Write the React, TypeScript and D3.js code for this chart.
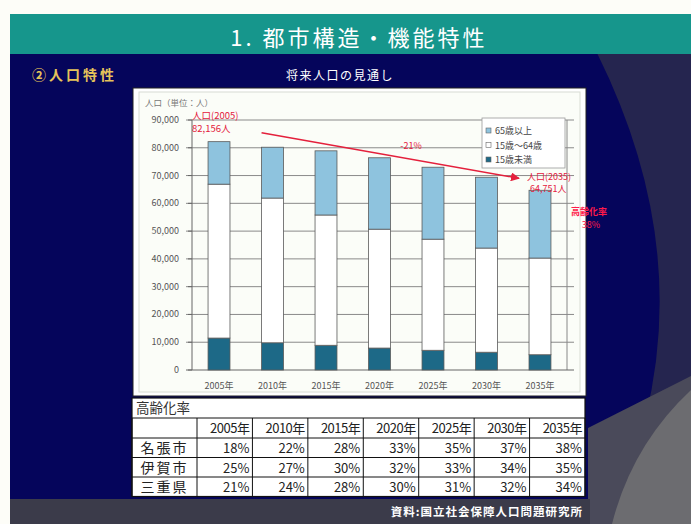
import React from 'react';
import * as d3 from 'd3';

const years = ['2005年', '2010年', '2015年', '2020年', '2025年', '2030年', '2035年'];
const young = [11500, 9800, 8900, 7900, 7100, 6400, 5500];
const working = [55400, 52100, 46900, 42800, 40000, 37500, 34800];
const elderly = [15300, 18300, 23100, 25700, 25900, 25500, 24400];
const yTicks = [0, 10000, 20000, 30000, 40000, 50000, 60000, 70000, 80000, 90000];
const seriesNames = ['15歳未満', '15歳～64歳', '65歳以上'];
const seriesColors = ['#1d6987', '#ffffff', '#8ec3de'];

const tableHeaders = ['2005年', '2010年', '2015年', '2020年', '2025年', '2030年', '2035年'];
const tableRowNames = ['名張市', '伊賀市', '三重県'];
const nabariRate = ['18%', '22%', '28%', '33%', '35%', '37%', '38%'];
const igaRate = ['25%', '27%', '30%', '32%', '33%', '34%', '35%'];
const mieRate = ['21%', '24%', '28%', '30%', '31%', '32%', '34%'];

const FONT = '"Noto Sans CJK JP", "Noto Sans", sans-serif';

export default function App() {
  const W = 691, H = 524;
  const x = d3.scaleBand<string>().domain(years).range([192, 567]).paddingInner(0.59).paddingOuter(0.3);
  const y = d3.scaleLinear().domain([0, 90000]).range([370, 120]);
  const rows = years.map((yr, i) => ({ year: yr, young: young[i], working: working[i], elderly: elderly[i] }));
  const stack = d3.stack<any>().keys(['young', 'working', 'elderly']);
  const series = stack(rows);
  const totals = years.map((_, i) => young[i] + working[i] + elderly[i]);
  const fmt = d3.format(',');

  const x1 = (x(years[1]) as number);
  const y1 = y(totals[0]) - 9;
  const x2 = (x(years[6]) as number) - 10;
  const y2 = y(totals[6]) - 12;

  const tX = 132, tW = 453, tTop = 398;
  const firstColW = 65;
  const colW = (tW - firstColW) / tableHeaders.length;
  const rowH = [20, 20, 19.5, 19.5, 19.5];
  const rowY: number[] = [];
  let acc = tTop;
  rowH.forEach(h => { rowY.push(acc); acc += h; });
  const tBottom = acc;
  const tableData = [nabariRate, igaRate, mieRate];

  return (
    <svg width={W} height={H} style={{ position: 'absolute', left: 0, top: 0 }} fontFamily={FONT}>
      <defs>
        <marker id="arr" viewBox="0 0 10 10" refX="9" refY="5" markerWidth="6" markerHeight="6" orient="auto">
          <path d="M0,0 L10,5 L0,10 Z" fill="#e4203c" />
        </marker>
      </defs>
      <rect x={0} y={0} width={W} height={H} fill="#fdfdf8" />
      <rect x={10} y={53} width={W - 10} height={H - 53} fill="#05055b" />
      <path d="M597,53 Q690,240 645,420 L691,420 L691,53 Z" fill="#25254f" />
      <path d="M588,428 L691,376 L691,524 L588,524 Z" fill="#4a4a5a" />
      <path d="M612,524 Q632,445 691,390 L691,524 Z" fill="#6c6c70" />
      <rect x={10} y={499} width={580} height={25} fill="#3b3b4a" />
      <rect x={10} y={14} width={W - 10} height={40} fill="#16968c" />
      <text x={359} y={46} fill="#ffffff" fontSize={22} textAnchor="middle" letterSpacing={3}>1. 都市構造・機能特性</text>
      <text x={32} y={80} fill="#e6c35a" fontSize={14} fontWeight="bold" letterSpacing={3}>②人口特性</text>
      <text x={340} y={80} fill="#ffffff" fontSize={12} textAnchor="middle" letterSpacing={1.5}>将来人口の見通し</text>

      <rect x={133} y={88} width={453} height={308} fill="#ffffff" stroke="#222" strokeWidth={1} />
      <rect x={139} y={92} width={441} height={300} fill="#fbfdf8" stroke="#d8dcd4" strokeWidth={1} />
      <text x={145} y={106} fill="#777" fontSize={8.5}>人口（単位：人）</text>

      {yTicks.map(t => (
        <g key={t}>
          {t > 0 && <line x1={186} x2={574} y1={y(t)} y2={y(t)} stroke="#8a8a8a" strokeWidth={1} />}
          <line x1={188} x2={192} y1={y(t)} y2={y(t)} stroke="#666" />
          <text x={179} y={y(t) + 3} fill="#555" fontSize={9} textAnchor="end">{fmt(t)}</text>
        </g>
      ))}
      <line x1={192} x2={192} y1={y(90000)} y2={y(0)} stroke="#666" />
      <line x1={567} x2={567} y1={y(90000)} y2={y(0)} stroke="#888" />
      <line x1={186} x2={574} y1={y(0)} y2={y(0)} stroke="#666" />

      {series.map((s, si) => (
        <g key={si}>
          {s.map((d, i) => (
            <rect key={i} x={x(years[i])} y={y(d[1])} width={x.bandwidth()} height={y(d[0]) - y(d[1])}
              fill={seriesColors[si]} stroke="#5a5a5a" strokeWidth={0.8} />
          ))}
        </g>
      ))}
      {years.map(yr => (
        <text key={yr} x={(x(yr) as number) + x.bandwidth() / 2} y={389} fill="#555" fontSize={9} textAnchor="middle">{yr}</text>
      ))}

      <rect x={482} y={118} width={83} height={50} fill="#ffffff" stroke="#999" strokeWidth={0.8} />
      {[2, 1, 0].map((si, k) => (
        <g key={si}>
          <rect x={486} y={128 + k * 14.5} width={5} height={5} fill={seriesColors[si]} stroke="#666" strokeWidth={0.6} />
          <text x={495} y={134 + k * 14.5} fill="#444" fontSize={9}>{seriesNames[si]}</text>
        </g>
      ))}

      <line x1={x1} y1={y1} x2={x2} y2={y2} stroke="#e4203c" strokeWidth={1.5} markerEnd="url(#arr)" />
      <text x={411} y={149} fill="#e4203c" fontSize={9} textAnchor="middle">-21%</text>
      <text x={192} y={119} fill="#e4203c" fontSize={9.5}>人口(2005)</text>
      <text x={192} y={132} fill="#e4203c" fontSize={9.5}>{fmt(82156)}人</text>
      <text x={527} y={180} fill="#e4203c" fontSize={9}>人口(2035)</text>
      <text x={530} y={192} fill="#e4203c" fontSize={9}>{fmt(64751)}人</text>
      <text x={589} y={215} fill="#ff1a4a" fontSize={9} textAnchor="middle" fontWeight="bold">高齢化率</text>
      <text x={591} y={228} fill="#ff1a4a" fontSize={9} textAnchor="middle">38%</text>

      <rect x={tX} y={tTop} width={tW} height={tBottom - tTop} fill="#ffffff" stroke="#111" strokeWidth={1.2} />
      <text x={tX + 4} y={rowY[0] + 15} fill="#333" fontSize={13.5}>高齢化率</text>
      {rowY.slice(1).map((ry, i) => (
        <line key={i} x1={tX} x2={tX + tW} y1={ry} y2={ry} stroke="#111" strokeWidth={1} />
      ))}
      {d3.range(tableHeaders.length + 1).map(c => (
        <line key={c} x1={tX + firstColW + c * colW} x2={tX + firstColW + c * colW} y1={rowY[1]} y2={tBottom} stroke="#111" strokeWidth={1} />
      ))}
      <line x1={tX} x2={tX} y1={rowY[1]} y2={tBottom} stroke="#111" />
      {tableHeaders.map((h, c) => (
        <text key={h} x={tX + firstColW + (c + 1) * colW - 3} y={rowY[1] + 15} fill="#222" fontSize={13} textAnchor="end" letterSpacing={-0.5}>{h}</text>
      ))}
      {tableRowNames.map((n, r) => (
        <g key={n}>
          <text x={tX + firstColW / 2} y={rowY[2 + r] + 15} fill="#222" fontSize={14} textAnchor="middle" letterSpacing={2}>{n}</text>
          {tableData[r].map((v, c) => (
            <text key={c} x={tX + firstColW + (c + 1) * colW - 3} y={rowY[2 + r] + 15} fill="#222" fontSize={13} textAnchor="end">{v}</text>
          ))}
        </g>
      ))}
      <text x={583} y={516} fill="#ffffff" fontSize={11.5} fontWeight="bold" textAnchor="end" letterSpacing={1}>資料:国立社会保障人口問題研究所</text>
    </svg>
  );
}
